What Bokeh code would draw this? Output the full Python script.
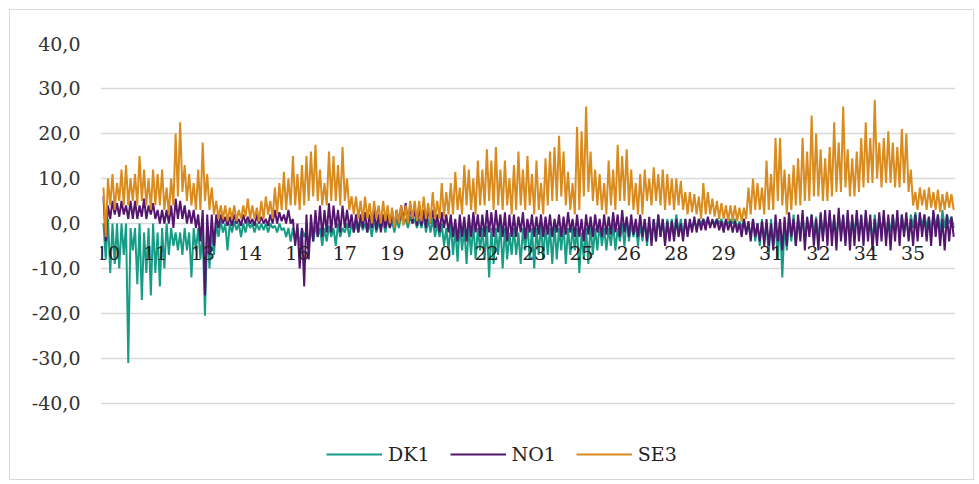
from bokeh.plotting import figure
from bokeh.models import Range1d, FixedTicker, Legend, LegendItem, ColumnDataSource
from bokeh.core.properties import value
from bokeh.embed import file_html
from bokeh.resources import INLINE

# Week labels on the category axis (one label every 10.5 days)
tick_labels = ["10", "11", "13", "14", "16", "17", "19", "20", "22", "23",
               "25", "26", "28", "29", "31", "32", "34", "35"]
y_ticks = [-40, -30, -20, -10, 0, 10, 20, 30, 40]

# Daily high / low values (one row = one week)
se3_hi = [
    8, 10, 11, 9, 12, 13, 10,
    11, 15, 12, 10, 12, 11, 12,
    8, 10, 20, 22.5, 13, 11, 9,
    12, 18, 11, 8, 5, 4, 4,
    3.5, 4, 3, 4, 5.5, 4, 3.5,
    5, 6, 5, 8, 9, 11.5, 10,
    15, 11, 13, 15, 16, 17.5, 12,
    9, 16, 15, 13, 17, 10, 6,
    6, 5, 6, 4.5, 5, 4, 5,
    4, 3.5, 3, 4, 4, 5, 5,
    5, 6, 4.5, 7, 5, 9, 7,
    9, 11.5, 8, 13, 12, 10, 14,
    12, 16.5, 14, 17, 12, 14, 10,
    13, 16, 12, 15, 11, 14, 9,
    14.5, 16, 17, 19.5, 16, 11.5, 9,
    21.5, 20.5, 26, 16, 12, 11, 9,
    14, 12, 17.5, 15, 16.5, 12, 9,
    11, 12, 10, 12.5, 11, 12, 11,
    10, 10, 9.5, 7, 7, 6.5, 6,
    9, 7, 5.5, 5, 4.5, 4, 4,
    4, 3.5, 3.5, 8, 10, 9, 8,
    14, 11, 19, 19, 12, 11, 13,
    14.5, 19, 16, 24, 20, 16.5, 14.5,
    17, 22.5, 18, 26, 16.5, 14.5, 16,
    19, 22.5, 19, 27.5, 18, 19, 20.5,
    18, 17, 21, 20, 12, 7, 8,
    7.5, 8, 7, 7.5, 6.5, 7, 6.5,
]
se3_lo = [
    -3, 4, 3, 5, 4, 4, 5,
    4, 5, 4, 3, 4, 4, 3,
    2, 4, 6, 7, 5, 4, 3,
    3, 5, 3, 2, 1, 1, 0.5,
    1, 0.5, 1, 1.5, 1, 1, 0.5,
    1, 2, 1, 2, 3, 3, 4,
    4, 3, 4, 5, 6, 5, 4,
    4, 5, 5, 4, 5, 3, 2,
    1, 0.5, 1, 0, 1, 0, 0.5,
    0, -1, 0, -0.5, 0, 1, 0.5,
    0.5, 1, 0, 1, 1, 1.5, 2,
    2, 3, 2, 4, 3, 2, 4,
    4, 5, 3, 4, 3, 4, 2,
    3, 4, 3, 4, 2, 3, 2,
    4, 5, 5, 6, 4, 3, 2,
    3, 6, 7, 5, 4, 3, 2,
    4, 3, 5, 5, 4, 3, 2,
    2, 5, 4, 5, 4, 3, 4,
    3, 4, 3, 2, 2.5, 2, 1,
    2, 2, 1.5, 1, 1, 0.5, 0.5,
    0.5, 0.5, 1, 2, 3, 3, 2,
    3, 3, 5, 4, 2, 3, 4,
    4, 5, 5, 6, 6, 5, 5,
    6, 7, 7, 8, 6, 6, 7,
    8, 9, 9, 10, 8, 9, 9,
    8, 8, 9, 7, 4, 3, 4,
    3, 3.5, 3, 2.5, 3, 3.5, 3,
]
no1_hi = [
    6, 4, 5, 4.5, 5, 4, 5,
    5, 4, 5.5, 4, 4.5, 3, 3,
    3, 4, 5.5, 5, 4, 3, 3,
    2, 3, 2, 2, 2, 2, 1.5,
    1.5, 2, 1, 2, 1.5, 1, 2,
    1.5, 1, 2, 3, 2.5, 2, 3,
    1, 0, -1, 2, 2, 3, 4,
    3, 4.5, 4, 3, 4, 3, 2,
    2, 2, 2.5, 2, 3, 2, 2,
    2, 2.5, 3, 4, 4.5, 4, 3.5,
    4, 3, 3.5, 3, 2, 2.5, 2,
    2, 1, 2, 1.5, 2, 2.5, 2,
    2, 3, 2.5, 3, 2, 2.5, 2,
    2, 1.5, 2.5, 1, 2, 1.5, 2,
    1.5, 2, 1, 2, 1.5, 2.5, 1,
    2, 1, 2, 1.5, 2, 1, 2,
    1.5, 2.5, 2, 3, 1.5, 2, 1,
    2, 1, 1.5, 1, 2, 1, 0.5,
    0.5, 1, 0, 1, 1, 1.5, 1,
    1, 1.5, 1, 1, 0.5, 1, 0.5,
    0.5, 0, 1, 0.5, 1, 0, 0.5,
    1, 0, 2, 1, 1.5, 2.5, 1,
    2, 3, 1.5, 2, 1, 2.5, 3,
    3, 2, 3.5, 2, 3, 2, 3,
    2, 3, 2, 1, 2.5, 3, 2,
    2, 3, 2, 2.5, 1, 2, 2.5,
    2, 1.5, 3, 2, 1, 2, 1.5,
]
no1_lo = [
    -4, 1, 2, 1.5, 2, 1, 1,
    1, 1.5, 1, 2, 1, 0, 0,
    0, -1, 1, 1, 0, 0, -1,
    -4, -16, -7, -5, -1, 0, -0.5,
    -0.5, 0, -0.5, 0, 0, -0.5, 0,
    0, -0.5, 0, 0, 0.5, 0, 0,
    -5, -10, -14, -8, -4, -3, -3,
    -2, -2, -1, -2, -1, -1, -2,
    -2, -1, -2, -1, -1.5, -2, -1,
    -1, -1, 0, 0.5, 0, 0, -0.5,
    -0.5, -1, 0, -1, -2, -1, -2,
    -3, -4, -3, -4, -3, -2, -3,
    -3, -2, -3, -2, -3, -4, -3,
    -3, -2, -3.5, -2, -3, -2.5, -3,
    -2.5, -3, -2, -3, -2.5, -2, -3,
    -3, -4, -2.5, -3, -2, -3, -2.5,
    -2.5, -2, -3, -2, -3, -2.5, -3,
    -3, -4, -5, -4, -3, -5, -4,
    -4, -3, -4, -3, -2, -2, -1.5,
    -1.5, -1, -1, -1.5, -2, -1.5, -2,
    -2, -3, -2.5, -4, -3, -4, -5,
    -5, -6, -4, -6, -5, -3, -5,
    -4, -6, -3, -5, -6, -4, -5,
    -5, -6, -4, -5, -6, -5, -4,
    -5, -4, -6, -5, -4, -5, -6,
    -4, -5, -3, -4, -5, -4, -3,
    -4, -5, -3, -5, -6, -4, -3,
]
dk1_hi = [
    0, 1, 0, 0, 0, 0, -1,
    -1, 0, -2, -1, 0, -2, -1,
    0, -1, -2, -2, -1, -2, -1,
    -1, -2, -1, -1, 0, 0.5, 0,
    0, 0.5, 0, 0, 0.5, 0, 0,
    0, 0, 0, -0.5, 0, -1, -1,
    -1, -1, -1, -1.5, -1, -0.5, -1,
    -1, -0.5, -1, 0, -1, 0, 0,
    0, 0.5, 0, 0, 1, 0, 0.5,
    1, 0.5, 1, 2, 1, 1.5, 1,
    1, 2, 1, 1, 0, 0, -1,
    0, -1, 0, -1, -0.5, 0, -1,
    -1, -0.5, -1, -1, 0, -1, -2,
    -1, -2, -1, 0, -1, -1, 0,
    0, -1, 0, -1, 0, -1, -1,
    -1, -2, -1, 0, -1, 0, -1,
    -1, 0, -1, 0, 1, 0, 0,
    0, 1, 0, 1, 2, 1, 1,
    1, 2, 1, 1, 0, 0.5, 1,
    1, 1, 0.5, 1, 1, 0.5, 1,
    1, 0.5, 1, 0, 1, 0, 1,
    0, 1, 0, 1, 0, 1, 2,
    1, 2, 1, 2, 1.5, 2, 1,
    2, 1, 2, 1.5, 2, 1, 2,
    1.5, 2, 1, 2, 1.5, 2, 1,
    2, 1.5, 2, 1, 2, 2.5, 2,
    2, 1.5, 2.5, 2, 3, 2, 1.5,
]
dk1_lo = [
    -8, -11, -9, -10, -7, -31, -6,
    -13.5, -17, -11, -16, -11, -14, -10,
    -7, -5, -6, -7, -6, -12, -6,
    -8, -20.5, -10, -7, -3, -2, -6,
    -2, -1.5, -3, -2, -1, -2, -1.5,
    -1.5, -2, -1, -2, -1.5, -3, -4,
    -4, -5, -3, -5, -4, -3, -5,
    -4, -3, -5, -3, -2, -3, -2,
    -2, -1.5, -2, -3, -2, -1, -2,
    -1, -2, -1, 0, -1, 0, -1,
    -1, -2, -2, -3, -3, -5, -6,
    -7, -8.5, -6, -9, -7, -8, -6,
    -8, -12, -9, -7, -10, -8, -7,
    -7, -9, -6, -8, -10, -7, -8,
    -7, -9, -8, -6, -9, -7, -6,
    -11, -8, -9, -7, -6, -5, -6,
    -5, -6, -4, -5, -4, -3, -5,
    -4, -5, -3, -4, -3, -4, -3,
    -3, -2, -3, -2, -1, -1, 0,
    0, -0.5, 0, 0, -0.5, 0, 0,
    -1, -1, -2, -3, -4, -5, -4,
    -7, -5, -8, -12, -6, -4, -5,
    -3, -4, -2, -3, -4, -3, -2,
    -2, -3, -2, -4, -3, -2, -3,
    -3, -2, -4, -3, -2, -3, -2,
    -2, -3, -2, -3, -1, -2, -1,
    -1, -2, -1, -2, -1, 0, -1,
]

series = [("DK1", dk1_hi, dk1_lo, "#179c85"),
          ("NO1", no1_hi, no1_lo, "#54156f"),
          ("SE3", se3_hi, se3_lo, "#d98b1e")]

FONT = "DejaVu Serif"

# frame runs from the 40 gridline down to the bottom of the chart; the legend
# sits in the frame below the -40 gridline
p = figure(width=965, height=471, output_backend="svg", toolbar_location=None,
           x_range=Range1d(-0.66, 188.9), y_range=Range1d(-56.9, 40),
           min_border_left=90, min_border_right=20, min_border_top=33,
           min_border_bottom=2)
p.styles = {"margin-left": "9px", "margin-top": "9px",
            "border": "1px solid #d9d9d9"}
p.outline_line_color = None
p.background_fill_color = "white"
p.border_fill_color = "white"

p.xgrid.visible = False
p.ygrid.ticker = FixedTicker(ticks=y_ticks)
p.ygrid.grid_line_color = "#d9d9d9"
p.ygrid.grid_line_width = 1.5

p.yaxis.ticker = FixedTicker(ticks=y_ticks)
p.yaxis.major_label_overrides = {v: f"{v:.1f}".replace(".", ",") for v in y_ticks}
p.yaxis.axis_line_color = None
p.yaxis.major_tick_line_color = None
p.yaxis.minor_tick_line_color = None
p.yaxis.major_label_text_font = FONT
p.yaxis.major_label_text_font_size = "19px"
p.yaxis.major_label_text_color = "#333333"
p.yaxis.major_label_standoff = 14

# x axis sits on the zero line: its labels are drawn as text at y = 0
p.xaxis.visible = False

items = []
for name, hi, lo, color in series:
    xs, ys = [], []
    for d in range(len(hi)):
        xs += [d, d + 0.5]
        ys += [hi[d], lo[d]]
    r = p.line(xs, ys, line_color=color, line_width=2.0)
    items.append(LegendItem(label=name, renderers=[r]))

tick_pos = [1.0 + 10.5 * k for k in range(len(tick_labels))]
lab_src = ColumnDataSource(dict(x=tick_pos, y=[0] * len(tick_pos), t=tick_labels))
p.text(x="x", y="y", text="t", source=lab_src, y_offset=23,
       text_align="center", text_baseline="top",
       text_font=value(FONT), text_font_size="19px", text_color="#222222")

legend = Legend(items=items, orientation="horizontal", location=(226, 14),
                label_text_font=FONT, label_text_font_size="19px",
                label_text_color="#222222", glyph_width=56, glyph_height=14,
                label_standoff=6, spacing=20, padding=0, margin=0,
                border_line_color=None, background_fill_alpha=0)
p.add_layout(legend)

open("out.html", "w").write(file_html(p, INLINE))
